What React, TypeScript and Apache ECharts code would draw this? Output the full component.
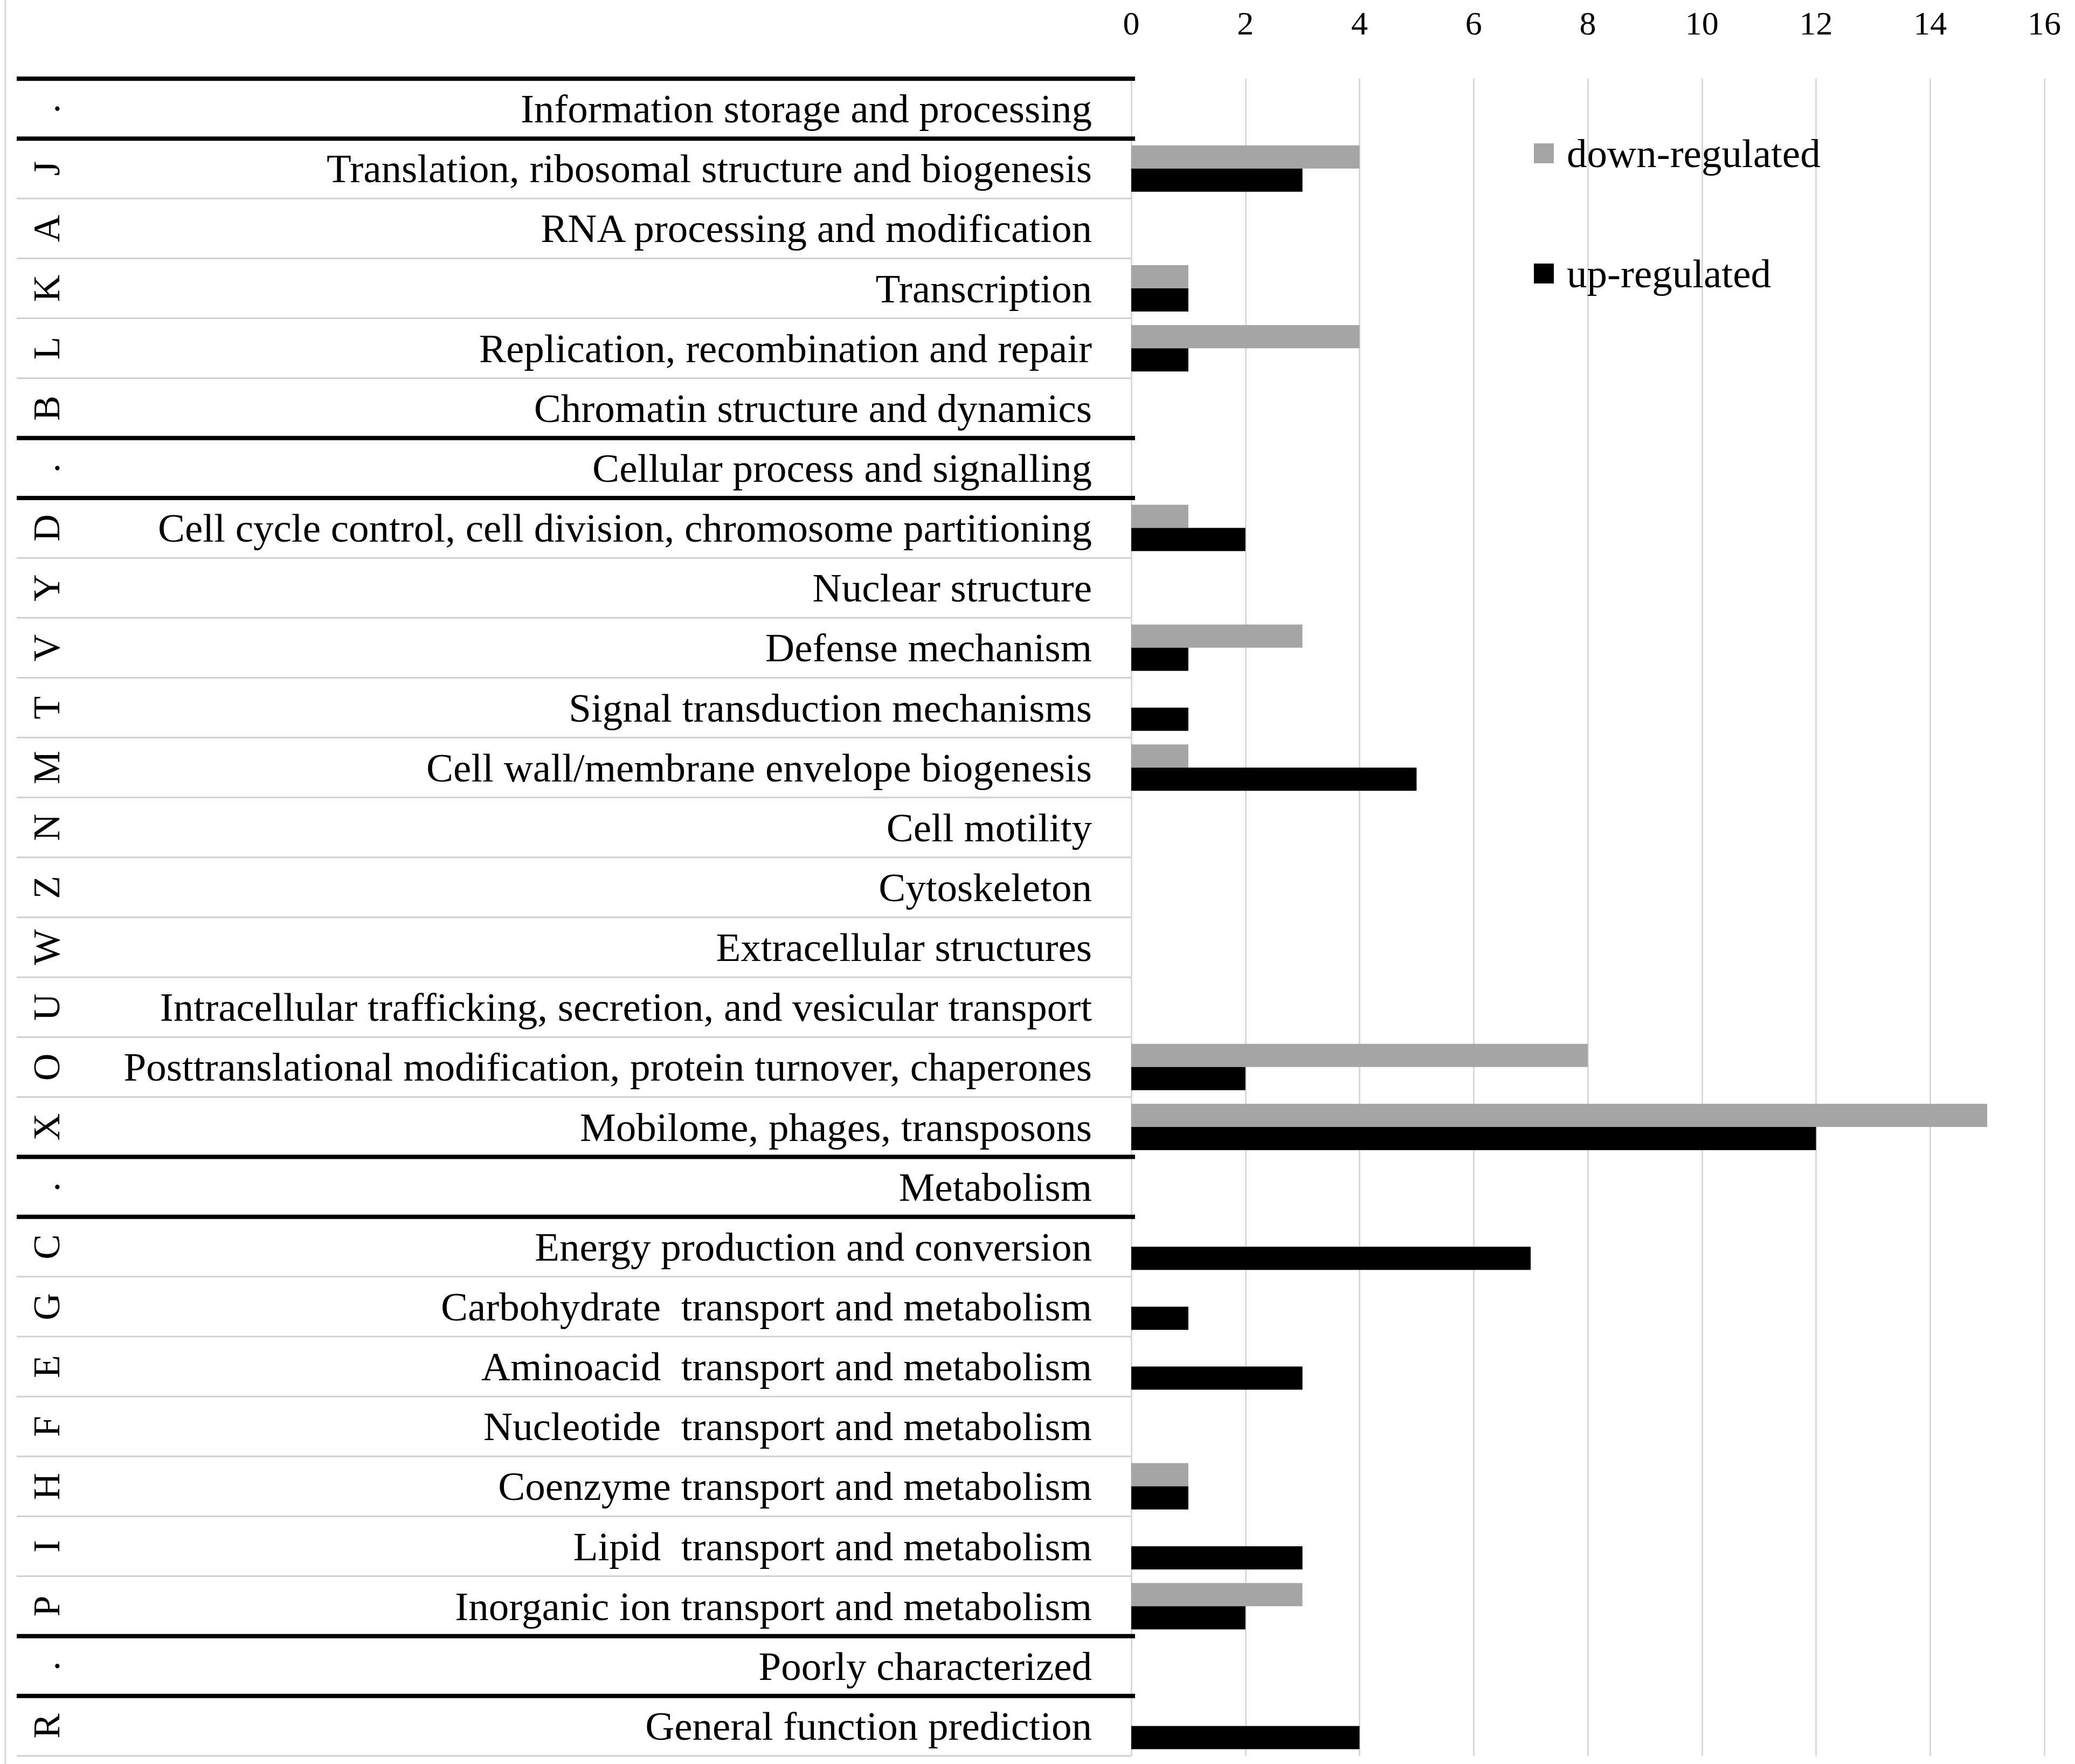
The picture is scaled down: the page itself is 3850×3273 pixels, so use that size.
import React, { useEffect, useRef } from "react";
import * as echarts from "echarts";

const categories = [
  "Information storage and processing",
  "Translation, ribosomal structure and biogenesis",
  "RNA processing and modification",
  "Transcription",
  "Replication, recombination and repair",
  "Chromatin structure and dynamics",
  "Cellular process and signalling",
  "Cell cycle control, cell division, chromosome partitioning",
  "Nuclear structure",
  "Defense mechanism",
  "Signal transduction mechanisms",
  "Cell wall/membrane envelope biogenesis",
  "Cell motility",
  "Cytoskeleton",
  "Extracellular structures",
  "Intracellular trafficking, secretion, and vesicular transport",
  "Posttranslational modification, protein turnover, chaperones",
  "Mobilome, phages, transposons",
  "Metabolism",
  "Energy production and conversion",
  "Carbohydrate  transport and metabolism",
  "Aminoacid  transport and metabolism",
  "Nucleotide  transport and metabolism",
  "Coenzyme transport and metabolism",
  "Lipid  transport and metabolism",
  "Inorganic ion transport and metabolism",
  "Poorly characterized",
  "General function prediction",
];

const letters = [
  ".", "J", "A", "K", "L", "B", ".", "D", "Y", "V", "T", "M", "N", "Z",
  "W", "U", "O", "X", ".", "C", "G", "E", "F", "H", "I", "P", ".", "R",
];

const downRegulated = [
  null, 4, 0, 1, 4, 0, null, 1, 0, 3, 0, 1, 0, 0,
  0, 0, 8, 15, null, 0, 0, 0, 0, 1, 0, 3, null, 0,
];

const upRegulated = [
  null, 3, 0, 1, 1, 0, null, 2, 0, 1, 1, 5, 0, 0,
  0, 0, 2, 12, null, 7, 1, 3, 0, 1, 3, 2, null, 4,
];

const xTicks = { min: 0, max: 16, interval: 2 };

const FONT = "'Liberation Serif', 'DejaVu Serif', serif";

export default function App() {
  const ref = useRef<HTMLDivElement>(null);

  useEffect(() => {
    document.body.style.margin = "0";
    const chart = echarts.init(ref.current!, null, { renderer: "svg" });
    const legendText = {
      fontSize: 75,
      fontFamily: FONT,
      color: "#000",
      padding: [0, 0, 0, 19],
    };
    chart.setOption({
      animation: false,
      backgroundColor: "#fff",
      grid: { left: 2099, right: 57, top: 146, bottom: 15, containLabel: false },
      legend: [
        {
          data: ["down-regulated"],
          left: 2841,
          top: 242,
          orient: "vertical",
          icon: "rect",
          itemWidth: 37,
          itemHeight: 37,
          selectedMode: false,
          textStyle: legendText,
        },
        {
          data: ["up-regulated"],
          left: 2841,
          top: 465,
          orient: "vertical",
          icon: "rect",
          itemWidth: 37,
          itemHeight: 37,
          selectedMode: false,
          textStyle: legendText,
        },
      ],
      xAxis: {
        type: "value",
        position: "top",
        min: xTicks.min,
        max: xTicks.max,
        interval: xTicks.interval,
        axisLine: { show: false },
        axisTick: { show: false },
        splitLine: { lineStyle: { color: "#d9d9d9", width: 3 } },
        axisLabel: { fontSize: 62, fontFamily: FONT, color: "#000", margin: 72 },
      },
      yAxis: {
        type: "category",
        inverse: true,
        data: categories,
        axisLine: { show: false },
        axisTick: { show: false },
        splitLine: { show: false },
        axisLabel: { margin: 73, fontSize: 75, fontFamily: FONT, color: "#000" },
      },
      series: [
        {
          name: "down-regulated",
          type: "bar",
          data: downRegulated,
          barWidth: 43,
          barGap: "0%",
          itemStyle: { color: "#a5a5a5" },
        },
        {
          name: "up-regulated",
          type: "bar",
          data: upRegulated,
          barWidth: 43,
          barGap: "0%",
          itemStyle: { color: "#000" },
        },
      ],
    });

    const centers = categories.map(
      (c) => chart.convertToPixel({ yAxisIndex: 0 }, c) as number
    );
    const step = centers.length > 1 ? centers[1] - centers[0] : 111;
    const isHeader = letters.map((l) => l === ".");
    const elements: any[] = [];
    // left border
    elements.push({
      type: "line",
      shape: { x1: 10, y1: 0, x2: 10, y2: 3273 },
      style: { stroke: "#d9d9d9", lineWidth: 3 },
      z: 10,
    });
    for (let k = 0; k <= centers.length; k++) {
      const y =
        k === 0
          ? centers[0] - step / 2
          : k === centers.length
          ? centers[k - 1] + step / 2
          : (centers[k - 1] + centers[k]) / 2;
      const thick = (k > 0 && isHeader[k - 1]) || (k < centers.length && isHeader[k]);
      elements.push({
        type: "line",
        shape: { x1: 31, y1: y, x2: thick ? 2106 : 2099, y2: y },
        style: { stroke: thick ? "#000" : "#d0d0d0", lineWidth: thick ? 8 : 3 },
        z: thick ? 12 : 11,
      });
    }
    letters.forEach((l, i) => {
      elements.push({
        type: "text",
        x: 86,
        y: centers[i],
        rotation: Math.PI / 2,
        style: {
          text: l,
          fontSize: 70,
          fontFamily: FONT,
          fill: "#000",
          align: "center",
          verticalAlign: "middle",
        },
        z: 12,
      });
    });
    chart.setOption({ graphic: elements });

    return () => chart.dispose();
  }, []);

  return <div ref={ref} style={{ width: 3850, height: 3273 }} />;
}
